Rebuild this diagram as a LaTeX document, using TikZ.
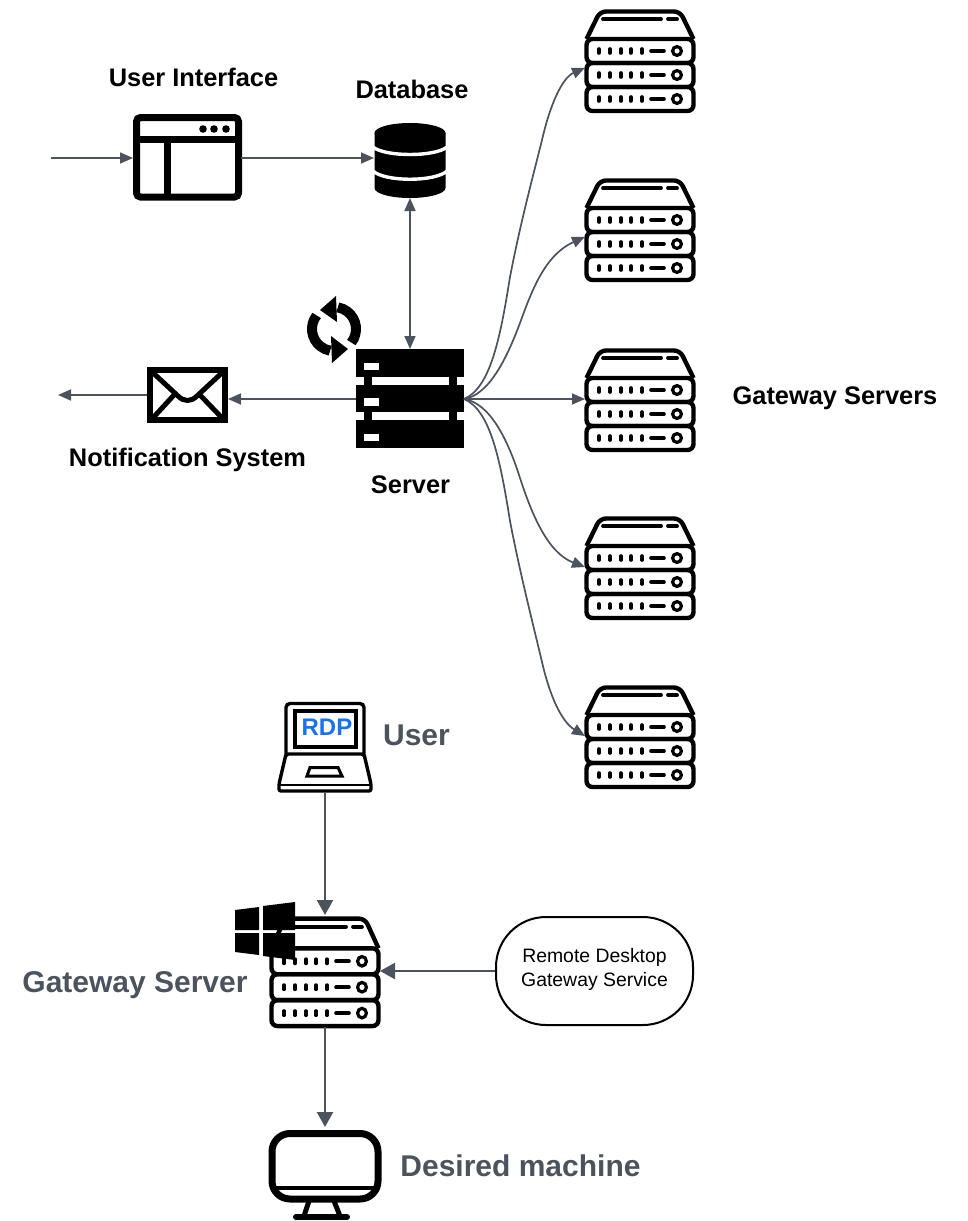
\documentclass[tikz,border=0pt]{standalone}
\usepackage{fontspec}
\setmainfont{Liberation Sans}
\usetikzlibrary{arrows.meta}
\definecolor{linkgray}{HTML}{4C535D}
\definecolor{rdpblue}{HTML}{1A73E8}
\tikzset{
    icon/.style={inner sep=0pt, outer sep=0pt},
    title/.style={inner sep=0pt, font=\bfseries\fontsize{25.4}{30}\selectfont},
    biglabel/.style={inner sep=0pt, text=linkgray, font=\bfseries\fontsize{30}{36}\selectfont},
    link/.style={draw=linkgray, line width=1.7pt, -{Stealth[length=13pt, width=11pt, inset=0pt]}},
    biglink/.style={draw=linkgray, line width=2.2pt, -{Stealth[length=15pt, width=16pt, inset=0pt]}},
    pics/rack/.style={code={
        \draw[line width=4.4pt, line join=round, rounded corners=6pt] (-53.5,-21) -- (-40,-48.5) -- (40,-48.5) -- (53.5,-21);
        \foreach \rowy in {-21,3,27} {
            \draw[line width=4.4pt, rounded corners=6pt] (-53.5,\rowy) rectangle (53.5,\rowy+24);
            \foreach \dotx in {-41,-30,-19,-9,2} {
                \draw[line width=3.6pt, line cap=round] (\dotx,\rowy+10) -- (\dotx,\rowy+14);
            }
            \draw[line width=3.6pt, line cap=round] (11,\rowy+12) -- (24,\rowy+12);
            \draw[line width=3.2pt] (37,\rowy+12) circle (4.4);
        }
        \draw[line width=3.8pt, line cap=round] (-37,-41) -- (21,-41);
        \draw[line width=3.8pt, line cap=round] (28,-41) -- (37,-41);
    }}
}

\begin{document}
\begin{tikzpicture}[x=1pt, y=-1pt]
    \useasboundingbox (0,0) rectangle (968,1221);

    % Gateway servers
    \node[icon, minimum width=110pt, minimum height=102pt] (gwa) at (640,60) {};
    \node[icon, minimum width=110pt, minimum height=102pt] (gwb) at (640,229) {};
    \node[icon, minimum width=110pt, minimum height=102pt] (gwc) at (640,399) {};
    \node[icon, minimum width=110pt, minimum height=102pt] (gwd) at (640,567) {};
    \node[icon, minimum width=110pt, minimum height=102pt] (gwe) at (640,736) {};
    \pic at (gwa) {rack};
    \pic at (gwb) {rack};
    \pic at (gwc) {rack};
    \pic at (gwd) {rack};
    \pic at (gwe) {rack};

    % User interface
    \node[icon, minimum width=108pt, minimum height=86pt] (ui) at (187,157) {};
    \draw[line width=7pt, rounded corners=4pt] (136.5,117.5) rectangle (238.5,197);
    \draw[line width=7pt] (136,139) -- (238,139);
    \draw[line width=7pt] (167.5,139) -- (167.5,197);
    \foreach \dotx in {203,214,226} {
        \fill (\dotx,129) circle (3.8);
    }

    % Database
    \node[icon, minimum width=72pt, minimum height=75pt] (db) at (410,160.5) {};
    \fill (374.5,133) arc (180:360:35.5 and 10) -- (445.5,188) arc (0:180:35.5 and 10) -- cycle;
    \fill (374.5,133) arc (180:0:35.5 and 10) -- cycle;
    \draw[white, line width=3.4pt] (373,147) .. controls (385,157) and (435,157) .. (447,147);
    \draw[white, line width=3.4pt] (373,171) .. controls (385,182) and (435,182) .. (447,171);

    % Server
    \node[icon, minimum width=108pt, minimum height=100pt] (srv) at (410,399) {};
    \fill (356,349) rectangle (464,377);
    \fill (356,385) rectangle (464,412);
    \fill (356,420) rectangle (464,448);
    \fill (364,376) rectangle (372,421);
    \fill (449,376) rectangle (457,421);
    \fill[white] (364,363) rectangle (379,370);
    \fill[white] (364,398) rectangle (379,406);
    \fill[white] (364,434) rectangle (379,441);

    % Refresh arrows
    \draw[line width=10pt] (334,329) ++(38:22) arc (38:-80:22);
    \draw[line width=10pt] (334,329) ++(218:22) arc (218:100:22);
    \fill (336,296) -- (320,310) -- (337,322) -- cycle;
    \fill (331,336) -- (348,349) -- (332,363) -- cycle;

    % Notification envelope
    \node[icon, minimum width=81pt, minimum height=56pt] (mail) at (187.5,395) {};
    \draw[line width=5.6pt] (149.8,369.8) rectangle (225.2,420.2);
    \draw[line width=5pt, line join=round] (150,370) -- (178,396) .. controls (184,402) and (191,402) .. (197,396) -- (225,370);
    \draw[line width=5pt] (151,420) -- (174,395);
    \draw[line width=5pt] (224,420) -- (200,395);

    % Laptop
    \node[icon, minimum width=94pt, minimum height=90pt] (laptop) at (325,747) {};
    \draw[line width=3.4pt, rounded corners=4pt] (286,755) -- (286,703.5) -- (364,703.5) -- (364,755);
    \draw[line width=4pt] (294.5,710.5) rectangle (356,747);
    \draw[line width=3.4pt, rounded corners=2pt, line join=round] (286,754) -- (364,754) -- (371,784) -- (371,791) -- (279,791) -- (279,784) -- cycle;
    \draw[line width=2.4pt] (279,785) -- (371,785);
    \draw[line width=3pt] (310,767.5) -- (338,767.5) -- (342,776) -- (307,776) -- cycle;
    \node[inner sep=0pt, text=rdpblue, font=\bfseries\fontsize{24}{28}\selectfont] (rdp) at (327,727) {RDP};

    % Lower gateway server
    \node[icon, minimum width=110pt, minimum height=112pt] (gateway) at (325,971) {};
    \pic[yscale=1.08] at (gateway) {rack};

    % Windows logo
    \fill (235,910) -- (259,907) -- (259,930) -- (235,930) -- cycle;
    \fill (263,906) -- (295,902) -- (295,930) -- (263,930) -- cycle;
    \fill (235,933) -- (259,933) -- (259,955) -- (235,952) -- cycle;
    \fill (263,933) -- (295,933) -- (295,960) -- (263,956) -- cycle;

    % Desired machine
    \node[icon, minimum width=112pt, minimum height=78pt] (desktop) at (325,1166) {};
    \draw[line width=7pt, rounded corners=18pt] (272,1133.5) rectangle (378,1199);
    \draw[line width=3.2pt] (274,1188) -- (376,1188);
    \draw[line width=5pt] (309,1201) -- (304,1216);
    \draw[line width=5pt] (334,1201) -- (340,1216);
    \draw[line width=6pt, line cap=round] (296,1217) -- (347,1217);

    % Remote desktop service
    \node[draw, line width=2pt, rounded corners=50pt, minimum width=197pt, minimum height=108pt, inner sep=0pt] (rdgs) at (594.5,971) {};
    \node[inner sep=0pt, align=center, font=\fontsize{19.4}{24}\selectfont] (rdgstext) at (594.5,969) {Remote Desktop\\Gateway Service};

    % Labels
    \node[title] (uilabel) at (193.5,77.5) {User Interface};
    \node[title] (dblabel) at (412,89.5) {Database};
    \node[title] (srvlabel) at (410.5,484.5) {Server};
    \node[title] (maillabel) at (187.5,460) {Notification System};
    \node[title] (gwlabel) at (835,398) {Gateway Servers};
    \node[biglabel] (userlabel) at (416.5,735) {User};
    \node[biglabel] (gatewaylabel) at (135,985.5) {Gateway Server};
    \node[biglabel] (desktoplabel) at (520.5,1166) {Desired machine};

    % Free ends
    \coordinate (uistart) at (51,158);
    \coordinate (mailend) at (58,395);

    % Top connections
    \draw[link] (uistart) -- (ui.west |- uistart);
    \draw[link] (ui.east |- uistart) -- (db.west |- uistart);
    \draw[link, {Stealth[length=13pt, width=11pt, inset=0pt]}-{Stealth[length=13pt, width=11pt, inset=0pt]}] (db.south) -- (srv.north);
    \draw[link] (srv.west) -- (mail.east |- srv.west);
    \draw[link] (mail.west) -- (mailend);

    % Server to gateways
    \draw[link] (srv.east) .. controls (490,388) and (500,340) .. (510,277) .. controls (520,225) and (532,180) .. (542,140) .. controls (550,105) and (562,78) .. (gwa.188);
    \draw[link] (srv.east) .. controls (490,395) and (508,355) .. (520,323) .. controls (532,290) and (545,255) .. (gwb.188);
    \draw[link] (srv.east) -- (gwc.west);
    \draw[link] (srv.east) .. controls (490,403) and (508,440) .. (520,478) .. controls (532,515) and (548,553) .. (gwd.west);
    \draw[link] (srv.east) .. controls (490,410) and (500,458) .. (510,521) .. controls (520,573) and (532,620) .. (542,662) .. controls (550,697) and (562,722) .. (gwe.west);

    % Bottom connections
    \draw[biglink] (laptop.south) -- (gateway.north);
    \draw[biglink] (rdgs.west) -- (gateway.east);
    \draw[biglink] (gateway.south) -- (desktop.north);
\end{tikzpicture}
\end{document}
